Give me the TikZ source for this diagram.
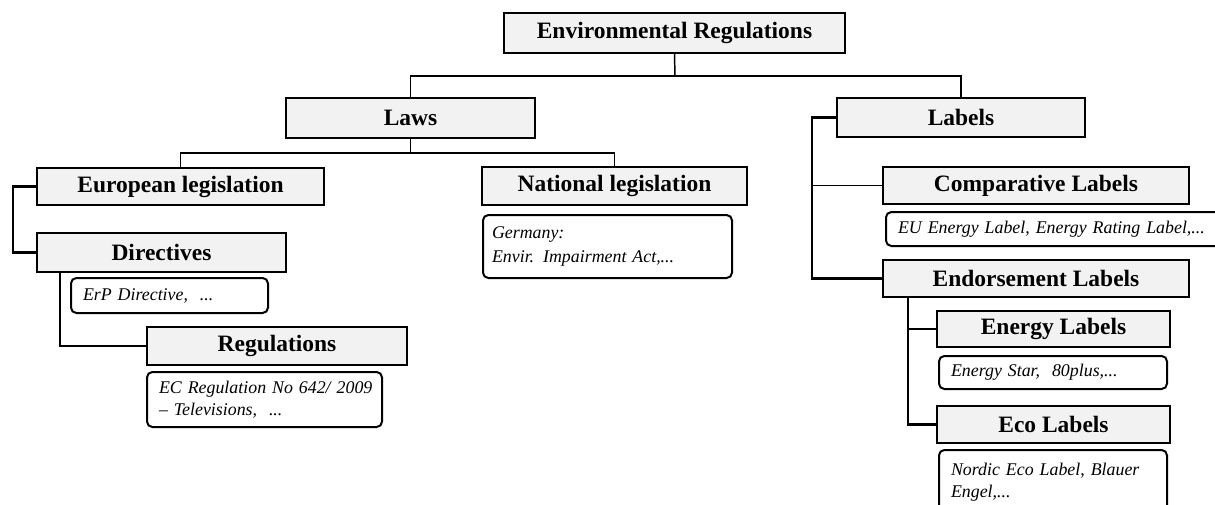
\documentclass[tikz,border=0pt]{standalone}
\usepackage{fontspec}
\setmainfont{Liberation Serif}
\definecolor{boxgray}{HTML}{F2F2F2}
\tikzset{
  hdr/.style={draw, line width=1.5pt, fill=boxgray, inner sep=0pt,
    font=\bfseries\fontsize{17.6}{20}\selectfont},
  note/.style={draw, line width=1.5pt, rounded corners=4pt, fill=white,
    inner ysep=0pt, inner xsep=9pt, align=left,
    font=\itshape\fontsize{13.4}{16.5}\selectfont},
  wire/.style={line width=1.1pt},
  wireb/.style={line width=1.6pt, line join=miter},
}
\begin{document}
\begin{tikzpicture}[x=0.75pt,y=-0.75pt]
\useasboundingbox (0,0) rectangle (1215,504);
\clip (0,0) rectangle (1215,504);
% header boxes
\node[hdr, minimum width=255.75pt, minimum height=30pt] (env) at (674.5,33) {Environmental Regulations};
\node[hdr, minimum width=186.75pt, minimum height=30pt] (laws) at (410.5,118) {Laws};
\node[hdr, minimum width=186pt, minimum height=29.25pt] (labels) at (961,117.5) {Labels};
\node[hdr, minimum width=215.25pt, minimum height=27.75pt] (eul) at (180.5,186.5) {European legislation};
\node[hdr, minimum width=198.75pt, minimum height=28.5pt] (natl) at (614.5,186) {National legislation};
\node[hdr, minimum width=186.75pt, minimum height=29.25pt] (dir) at (161.5,252.5) {Directives};
\node[hdr, minimum width=195pt, minimum height=28.5pt] (reg) at (277,346) {Regulations};
\node[hdr, minimum width=229.5pt, minimum height=27.75pt] (comp) at (1036,185.5) {Comparative Labels};
\node[hdr, minimum width=229.5pt, minimum height=27.75pt] (endo) at (1036,278.5) {Endorsement Labels};
\node[hdr, minimum width=174.75pt, minimum height=27pt] (enl) at (1053.5,329) {Energy Labels};
\node[hdr, minimum width=174.75pt, minimum height=27.75pt] (eco) at (1053.5,424.5) {Eco Labels};
% note boxes
\node[note, inner xsep=6.75pt, text width=173.25pt, minimum height=47.25pt,
  font=\itshape\fontsize{13.4}{18.5}\selectfont] (germany) at (607.5,246.5)
  {\mbox{Germany:}\\\mbox{Envir. Impairment Act,...}};
\node[note, text width=129.75pt, minimum height=26.25pt] (erp) at (169.5,295.5) {\mbox{ErP Directive, \ ...}};
\node[note, text width=158.25pt, minimum height=41.25pt] (ecreg) at (264.5,399.5)
  {\mbox{EC Regulation No 642/ 2009}\\\mbox{– Televisions, \ ...}};
\node[note, text width=236.25pt, minimum height=25.5pt] (eulabel) at (1055.5,229)
  {\mbox{EU Energy Label, Energy Rating Label,...}};
\node[note, text width=153pt, minimum height=24.75pt] (estar) at (1053,372.5) {\mbox{Energy Star, \ 80plus,...}};
\node[note, text width=153pt, minimum height=48.75pt] (nordic) at (1053,482.5)
  {\mbox{Nordic Eco Label, Blauer}\\\mbox{Engel,...}};
% junction coordinates
\coordinate (jtop) at (675,76);
\coordinate (jlaws) at (410.5,153);
\coordinate (cl1) at (13,220);
\coordinate (cd) at (60,272);
\coordinate (cl2) at (812,200);
\coordinate (ce) at (908,297);
% connectors
\draw[wire] (env.south) -- (jtop);
\draw[wire] (laws.north) |- (jtop) -| (labels.north);
\draw[wire] (laws.south) -- (jlaws);
\draw[wire] (eul.north) |- (jlaws) -| (natl.north);
\draw[wireb] (eul.west) -| (cl1) |- (dir.west);
\draw[wireb] (cd) |- (reg.west);
\draw[wireb] (labels.west) -| (cl2) |- (endo.west);
\draw[wire] (comp.west) -- (comp.west -| cl2);
\draw[wireb] (ce) |- (eco.west);
\draw[wireb] (enl.west) -- (enl.west -| ce);
\end{tikzpicture}
\end{document}
